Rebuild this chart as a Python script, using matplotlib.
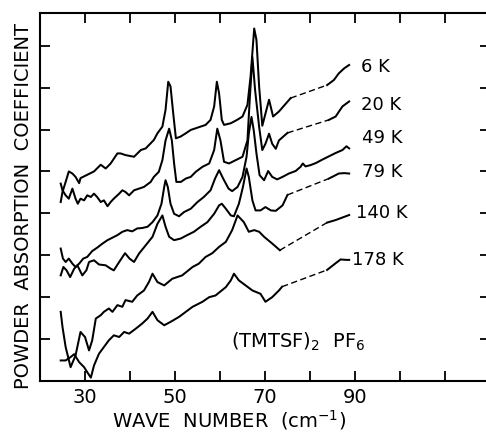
import matplotlib
matplotlib.use("Agg")
import matplotlib.pyplot as plt
from matplotlib.ticker import FixedLocator, FixedFormatter

plt.rcParams['font.family'] = ['DejaVu Sans']
plt.rcParams['mathtext.default'] = 'regular'

# ---------------- data (wave number in cm^-1, absorption in tick units) ----------------
wn_6K = [24.6, 25.0, 25.7, 26.4, 27.2, 27.9, 28.7, 29.0, 30.5, 32.0, 33.5, 34.6, 35.7, 37.2, 37.9, 39.0,
         40.9, 42.4, 43.5, 45.3, 46.1, 47.2, 47.9, 48.5, 49.0, 49.6, 50.2, 51.2, 52.4, 53.5, 54.6, 55.7,
         56.8, 57.9, 58.7, 59.3, 59.8, 60.4, 60.9, 62.4, 63.8, 65.0, 66.1, 66.8, 67.6, 68.1, 68.7, 69.4,
         70.9, 71.8, 73.1, 75.7, 83.8, 85.3, 86.4, 87.6, 88.7]
ab_6K = [4.27, 4.51, 4.75, 5.00, 4.95, 4.87, 4.72, 4.84, 4.92, 5.00, 5.16, 5.07, 5.19, 5.43, 5.43, 5.39,
         5.35, 5.51, 5.55, 5.75, 5.91, 6.07, 6.47, 7.14, 7.03, 6.39, 5.79, 5.83, 5.91, 5.99, 6.03, 6.07,
         6.11, 6.23, 6.55, 7.14, 6.86, 6.23, 6.11, 6.15, 6.23, 6.31, 6.59, 7.27, 8.41, 8.14, 7.02, 6.09,
         6.71, 6.31, 6.43, 6.75, 7.06, 7.18, 7.34, 7.46, 7.54]
gap_6K = (75.7, 83.8)

wn_20K = [24.6, 25.0, 25.7, 26.4, 27.2, 27.9, 28.4, 29.0, 29.8, 30.5, 31.3, 32.0, 32.7, 33.5, 34.2, 35.0,
          35.7, 36.4, 37.6, 38.3, 39.0, 39.8, 40.9, 42.0, 43.1, 44.6, 45.3, 46.4, 47.2, 47.9, 48.7, 49.3,
          49.8, 50.3, 51.3, 52.4, 53.5, 54.6, 56.1, 57.6, 58.7, 59.4, 60.1, 60.9, 62.0, 63.5, 65.0, 66.1,
          66.6, 67.2, 67.8, 68.7, 69.4, 70.1, 70.9, 71.6, 72.4, 73.1, 75.0, 84.2, 85.7, 87.2, 88.7]
ab_20K = [4.71, 4.55, 4.43, 4.35, 4.59, 4.35, 4.23, 4.35, 4.31, 4.43, 4.39, 4.47, 4.39, 4.27, 4.31, 4.17,
          4.27, 4.35, 4.47, 4.55, 4.51, 4.43, 4.55, 4.59, 4.63, 4.75, 4.87, 4.99, 5.27, 5.74, 6.02, 5.74,
          5.19, 4.75, 4.75, 4.83, 4.87, 4.99, 5.11, 5.19, 5.51, 6.02, 5.74, 5.23, 5.19, 5.27, 5.35, 5.74,
          6.70, 7.73, 6.94, 6.06, 5.51, 5.66, 5.90, 5.66, 5.54, 5.74, 5.92, 6.23, 6.31, 6.55, 6.67]
gap_20K = (75.0, 84.2)

wn_49K = [24.6, 25.1, 25.7, 26.4, 27.2, 27.9, 28.7, 29.6, 30.5, 31.6, 32.7, 33.9, 35.0, 36.1, 37.2, 38.3,
          39.4, 40.5, 41.6, 42.7, 43.9, 45.0, 46.1, 47.0, 47.6, 47.9, 48.4, 49.0, 49.8, 50.9, 52.0, 53.5,
          55.0, 56.4, 57.9, 58.9, 59.8, 60.7, 61.9, 62.7, 63.9, 65.0, 65.9, 66.4, 67.0, 67.5, 68.1, 68.8,
          69.8, 70.7, 71.6, 72.7, 73.9, 75.3, 76.8, 77.9, 78.4, 79.0, 80.1, 81.3, 82.7, 84.2, 85.7, 87.2,
          88.1, 88.7]
ab_49K = [3.16, 2.92, 2.84, 2.92, 2.80, 2.72, 2.80, 2.92, 2.96, 3.10, 3.18, 3.28, 3.36, 3.42, 3.48, 3.56,
          3.60, 3.57, 3.64, 3.65, 3.68, 3.79, 3.95, 4.23, 4.63, 4.79, 4.63, 4.23, 3.99, 3.93, 4.03, 4.11,
          4.27, 4.39, 4.55, 4.83, 5.03, 4.83, 4.59, 4.53, 4.63, 4.87, 5.35, 5.90, 6.30, 5.98, 5.43, 4.91,
          4.79, 5.01, 4.87, 4.81, 4.87, 4.95, 5.01, 5.11, 5.19, 5.12, 5.15, 5.20, 5.28, 5.36, 5.44, 5.51,
          5.60, 5.55]
gap_49K = None

wn_79K = [24.6, 25.2, 25.9, 26.7, 27.6, 28.3, 29.4, 30.3, 30.9, 32.0, 33.1, 34.6, 35.7, 36.4, 37.6, 38.9,
          39.9, 40.9, 42.0, 43.5, 45.0, 46.1, 47.2, 47.9, 48.7, 49.8, 51.3, 52.7, 54.2, 55.7, 57.2, 58.7,
          59.8, 60.4, 61.3, 62.4, 63.1, 64.2, 65.1, 65.9, 66.4, 67.2, 67.9, 69.0, 70.1, 71.3, 72.4, 73.9,
          75.0, 84.2, 86.4, 87.6, 88.7]
ab_79K = [2.52, 2.72, 2.64, 2.48, 2.68, 2.76, 2.52, 2.64, 2.84, 2.88, 2.78, 2.76, 2.68, 2.64, 2.84, 3.05,
          2.92, 2.84, 3.04, 3.24, 3.44, 3.75, 3.95, 3.68, 3.44, 3.36, 3.40, 3.48, 3.56, 3.68, 3.79, 3.99,
          4.19, 4.23, 4.11, 3.95, 3.93, 4.23, 4.63, 5.07, 4.87, 4.31, 4.07, 4.07, 4.15, 4.07, 4.06, 4.19,
          4.44, 4.83, 4.95, 4.96, 4.95]
gap_79K = (75.0, 84.2)

wn_140K = [24.6, 25.0, 25.7, 26.8, 27.9, 29.0, 30.0, 30.9, 31.6, 32.4, 33.5, 34.2, 35.3, 36.1, 37.2, 38.3,
           39.0, 40.5, 41.6, 43.1, 44.2, 45.0, 46.1, 47.6, 49.4, 51.6, 53.9, 55.3, 56.8, 58.3, 59.8, 61.3,
           62.7, 63.9, 65.3, 66.4, 67.6, 68.7, 69.8, 71.6, 73.3, 83.8, 85.7, 87.2, 88.7]
ab_140K = [1.65, 1.29, 0.81, 0.33, 0.61, 1.17, 1.05, 0.73, 0.97, 1.49, 1.57, 1.65, 1.73, 1.65, 1.81, 1.77,
           1.93, 1.89, 2.04, 2.16, 2.36, 2.56, 2.36, 2.28, 2.44, 2.52, 2.72, 2.80, 2.96, 3.05, 3.20, 3.32,
           3.60, 3.95, 3.79, 3.56, 3.60, 3.56, 3.44, 3.28, 3.12, 3.78, 3.84, 3.90, 3.96]
gap_140K = (73.3, 83.8)

wn_178K = [24.6, 25.7, 26.8, 27.6, 28.7, 29.8, 30.5, 31.3, 32.0, 33.1, 34.2, 35.3, 36.4, 37.6, 38.7, 39.8,
           41.3, 42.7, 43.9, 45.0, 46.1, 47.6, 49.0, 50.9, 52.4, 53.9, 56.1, 57.6, 59.0, 61.3, 62.4, 63.1,
           64.2, 65.7, 67.2, 69.0, 70.1, 71.6, 73.1, 73.8, 83.8, 85.7, 86.8, 88.0, 88.7]
ab_178K = [0.49, 0.49, 0.57, 0.64, 0.45, 0.33, 0.21, 0.08, 0.37, 0.65, 0.81, 0.97, 1.09, 1.05, 1.17, 1.13,
           1.25, 1.37, 1.49, 1.65, 1.45, 1.33, 1.41, 1.53, 1.65, 1.77, 1.89, 2.00, 2.04, 2.24, 2.40, 2.56,
           2.40, 2.28, 2.16, 2.08, 1.89, 2.00, 2.16, 2.25, 2.65, 2.81, 2.90, 2.89, 2.89]
gap_178K = (73.8, 83.8)

temp_labels = ["6 K", "20 K", "49 K", "79 K", "140 K", "178 K"]
x_ticks = [20, 30, 40, 50, 60, 70, 80, 90, 100, 110, 120]
x_tick_labels = ["", "30", "", "50", "", "70", "", "90", "", "", ""]
y_ticks = [1, 2, 3, 4, 5, 6, 7, 8]
compound = "(TMTSF)$_2$  PF$_6$"

# ---------------- plotting ----------------
curves = [(wn_6K, ab_6K, gap_6K), (wn_20K, ab_20K, gap_20K), (wn_49K, ab_49K, gap_49K),
          (wn_79K, ab_79K, gap_79K), (wn_140K, ab_140K, gap_140K), (wn_178K, ab_178K, gap_178K)]

fig = plt.figure(figsize=(4.86, 4.32), dpi=100)
ax = fig.add_axes([40 / 486, 51 / 432, 450 / 486, 368 / 432])

lw = 1.45
for wn, ab, gap in curves:
    assert len(wn) == len(ab)
    if gap is None:
        ax.plot(wn, ab, color='black', lw=lw, solid_joinstyle='round')
        continue
    lo, hi = gap
    left = [(x, y) for x, y in zip(wn, ab) if x <= lo]
    right = [(x, y) for x, y in zip(wn, ab) if x >= hi]
    ax.plot([p[0] for p in left], [p[1] for p in left], color='black', lw=lw, solid_joinstyle='round')
    ax.plot([left[-1][0], right[0][0]], [left[-1][1], right[0][1]], color='black', lw=1.0,
            linestyle=(0, (4.5, 2.5)))
    ax.plot([p[0] for p in right], [p[1] for p in right], color='black', lw=lw, solid_joinstyle='round')

label_x = [91.3, 91.3, 91.5, 91.5, 90.2, 89.3]
label_y = [7.49, 6.59, 5.80, 4.99, 4.01, 2.89]
for t, lx, ly in zip(temp_labels, label_x, label_y):
    ax.text(lx, ly, t, fontsize=13, ha='left', va='center')

ax.text(62.4, 0.93, compound, fontsize=14, ha='left', va='center')

ax.set_xlim(20, 120)
ax.set_ylim(0, 8.78)
ax.xaxis.set_major_locator(FixedLocator(x_ticks))
ax.xaxis.set_major_formatter(FixedFormatter(x_tick_labels))
ax.yaxis.set_major_locator(FixedLocator(y_ticks))
ax.yaxis.set_major_formatter(FixedFormatter([""] * len(y_ticks)))
ax.tick_params(direction='in', length=7, width=1.3, top=True, right=True,
               labelsize=14, pad=5)
for s in ax.spines.values():
    s.set_linewidth(1.5)

fig.text(229 / 486, 1 - 427 / 432, "WAVE  NUMBER  (cm$^{-1}$)", fontsize=14,
         ha='center', va='baseline')
fig.text(23.5 / 486, 1 - 206 / 432, "POWDER  ABSORPTION  COEFFICIENT", fontsize=14,
         ha='center', va='center', rotation=90)

fig.savefig("out.png", dpi=100)
